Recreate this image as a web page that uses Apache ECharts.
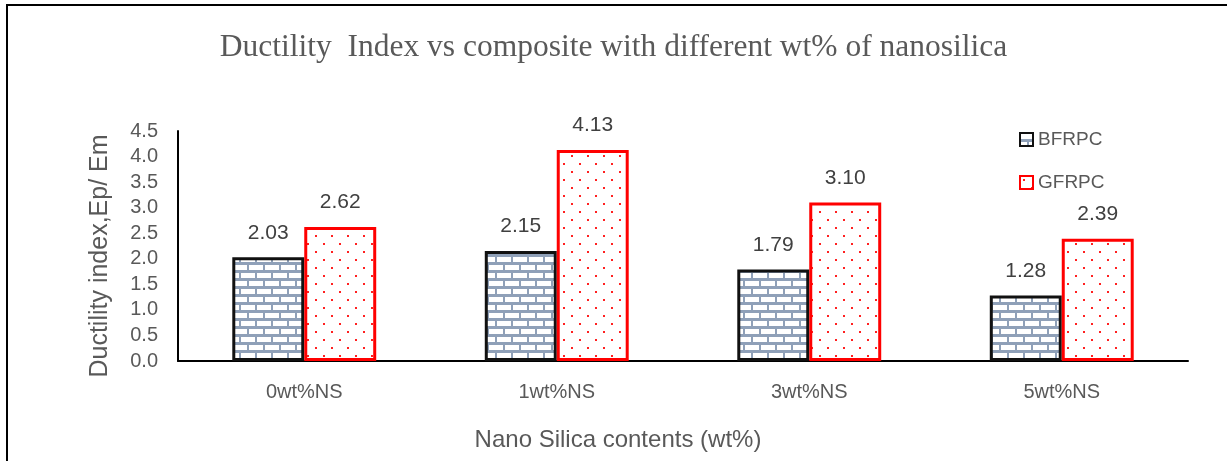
<!DOCTYPE html>
<html>
<head>
<meta charset="utf-8">
<script src="https://cdn.jsdelivr.net/npm/echarts@6/dist/echarts.min.js"></script>
<style>
  html, body { margin: 0; padding: 0; background: #fff; }
  #chart { width: 1227px; height: 461px; }
</style>
</head>
<body>
<div id="chart"></div>
<script>
// Nano-silica content groups and ductility index per composite
const categories = ['0wt%NS', '1wt%NS', '3wt%NS', '5wt%NS'];
const bfrpc = [2.03, 2.15, 1.79, 1.28];
const gfrpc = [2.62, 4.13, 3.10, 2.39];
const seriesNames = ['BFRPC', 'GFRPC'];

// Brick fill: white bricks on blue-grey mortar
function brickPattern() {
  const c = document.createElement('canvas');
  c.width = 16; c.height = 16;
  const g = c.getContext('2d');
  g.fillStyle = '#8fa0b8';
  g.fillRect(0, 0, 16, 16);
  g.fillStyle = '#ffffff';
  g.fillRect(1, 1, 14, 5);
  g.fillRect(9, 9, 14, 5);
  g.fillRect(-7, 9, 14, 5);
  return c;
}

// Dotted fill: small red dots in a staggered grid
function dotPattern() {
  const c = document.createElement('canvas');
  c.width = 16; c.height = 16;
  const g = c.getContext('2d');
  g.fillStyle = '#ffffff';
  g.fillRect(0, 0, 16, 16);
  g.fillStyle = '#ff2020';
  g.fillRect(3, 3, 2, 2);
  g.fillRect(11, 11, 2, 2);
  return c;
}

const chart = echarts.init(document.getElementById('chart'), null, { renderer: 'canvas' });
const grey = '#595959';
const labelFont = 'Liberation Sans';

chart.setOption({
  animation: false,
  backgroundColor: '#ffffff',
  title: {
    text: 'Ductility  Index vs composite with different wt% of nanosilica',
    left: 'center',
    top: 27,
    textStyle: {
      fontFamily: 'Liberation Serif',
      fontWeight: 'normal',
      fontSize: 31.5,
      color: grey
    }
  },
  legend: {
    orient: 'vertical',
    left: 1014,
    top: 125,
    icon: 'rect',
    itemWidth: 13,
    itemHeight: 13,
    itemGap: 24,
    textStyle: { fontFamily: labelFont, fontSize: 19, color: grey },
    data: seriesNames
  },
  grid: { left: 178, right: 39, top: 131, bottom: 100 },
  xAxis: {
    type: 'category',
    data: categories,
    name: 'Nano Silica contents (wt%)',
    nameLocation: 'middle',
    nameGap: 67,
    nameTextStyle: { fontFamily: labelFont, fontSize: 24, color: grey, padding: [0, 130, 0, 0] },
    axisLine: { lineStyle: { color: '#000', width: 2 } },
    axisTick: { show: false },
    axisLabel: { fontFamily: labelFont, fontSize: 20, color: grey, margin: 21 }
  },
  yAxis: {
    type: 'value',
    min: 0,
    max: 4.5,
    interval: 0.5,
    name: 'Ductility index,Ep/ Em',
    nameLocation: 'middle',
    nameGap: 65,
    nameTextStyle: { fontFamily: labelFont, fontSize: 25, color: grey, padding: [0, 20, 0, 0] },
    axisLine: { show: true, lineStyle: { color: '#000', width: 2 } },
    axisTick: { show: false },
    splitLine: { show: false },
    axisLabel: {
      fontFamily: labelFont, fontSize: 20, color: grey, margin: 20,
      formatter: v => v.toFixed(1)
    }
  },
  series: [
    {
      name: seriesNames[0],
      type: 'bar',
      data: bfrpc,
      barGap: '0%',
      barCategoryGap: '43%',
      itemStyle: {
        color: { image: brickPattern(), repeat: 'repeat' },
        borderColor: '#111',
        borderWidth: 3
      },
      label: {
        show: true, position: 'top', distance: 14,
        fontFamily: labelFont, fontSize: 21, color: '#404040',
        formatter: p => p.value.toFixed(2)
      }
    },
    {
      name: seriesNames[1],
      type: 'bar',
      data: gfrpc,
      itemStyle: {
        color: { image: dotPattern(), repeat: 'repeat' },
        borderColor: '#ff0000',
        borderWidth: 3
      },
      label: {
        show: true, position: 'top', distance: 14,
        fontFamily: labelFont, fontSize: 21, color: '#404040',
        formatter: p => p.value.toFixed(2)
      }
    }
  ],
  graphic: [
    {
      type: 'polyline',
      shape: { points: [[7, 461], [7, 5], [1227, 5]] },
      style: { stroke: '#000', lineWidth: 2, fill: null },
      silent: true
    }
  ]
});
</script>
</body>
</html>
